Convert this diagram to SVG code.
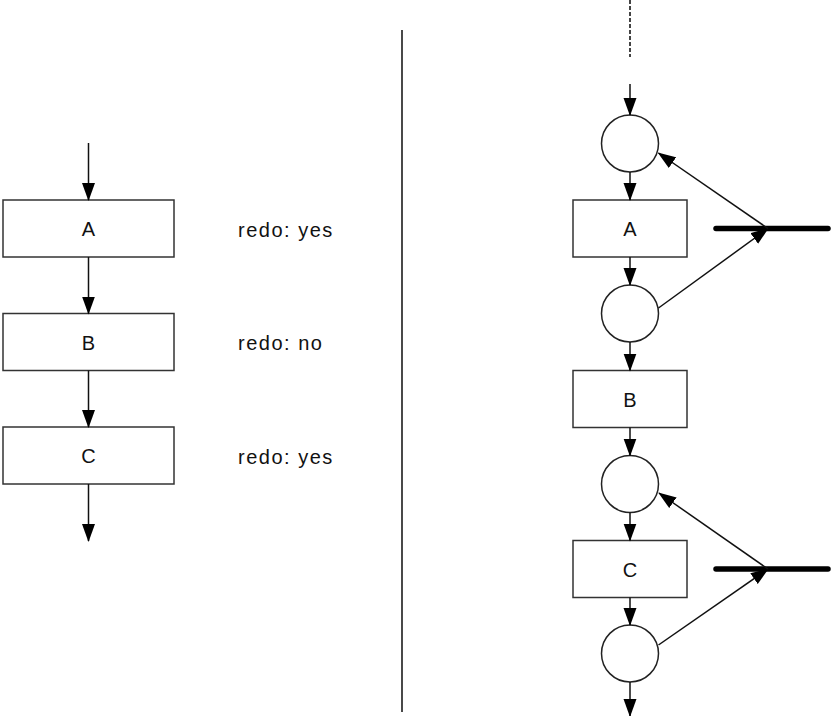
<svg xmlns="http://www.w3.org/2000/svg" width="834" height="716" viewBox="0 0 834 716">
  <style>
    .box { fill: #ffffff; stroke: #333333; stroke-width: 1.5; }
    .place { fill: #ffffff; stroke: #222222; stroke-width: 1.5; }
    .label { font-family: "Liberation Sans", Arial, sans-serif; font-size: 20px; fill: #111111; text-anchor: middle; }
    .note { font-family: "Liberation Sans", Arial, sans-serif; font-size: 20px; fill: #111111; letter-spacing: 1.5px; }
    .edge { fill: none; stroke: #111111; stroke-width: 1.5; marker-end: url(#arrow); }
    .bar { fill: none; stroke: #000000; stroke-width: 5.5; stroke-linecap: round; }
  </style>
  <defs>
    <marker id="arrow" markerUnits="userSpaceOnUse" markerWidth="18" markerHeight="14" viewBox="0 0 18 13" refX="17" refY="6.5" orient="auto">
      <path d="M0,0 L18,6.5 L0,13 z" fill="#000000"/>
    </marker>
  </defs>

  <rect width="834" height="716" fill="#ffffff"/>

  <!-- left: sequential steps -->
  <g id="left-A">
    <rect class="box" x="3" y="200" width="171" height="57"/>
    <text class="label" x="88.5" y="236">A</text>
  </g>
  <g id="left-B">
    <rect class="box" x="3" y="313.5" width="171" height="57"/>
    <text class="label" x="88.5" y="349.5">B</text>
  </g>
  <g id="left-C">
    <rect class="box" x="3" y="427" width="171" height="57"/>
    <text class="label" x="88.5" y="463">C</text>
  </g>
  <g id="notes">
    <text class="note" x="238" y="236.5">redo: yes</text>
    <text class="note" x="238" y="350">redo: no</text>
    <text class="note" x="238" y="463.5">redo: yes</text>
  </g>

  <!-- separator -->
  <line x1="402" y1="30" x2="402" y2="712" stroke="#2a2a2a" stroke-width="1.7"/>

  <!-- right: places and transitions -->
  <g id="p1"><circle class="place" cx="630" cy="143.5" r="28.5"/></g>
  <g id="right-A">
    <rect class="box" x="573" y="200" width="114" height="57"/>
    <text class="label" x="630" y="236">A</text>
  </g>
  <g id="p2"><circle class="place" cx="630" cy="313.5" r="28.5"/></g>
  <g id="right-B">
    <rect class="box" x="573" y="370.5" width="114" height="57"/>
    <text class="label" x="630" y="406.5">B</text>
  </g>
  <g id="p3"><circle class="place" cx="630" cy="484" r="28.5"/></g>
  <g id="right-C">
    <rect class="box" x="573" y="540.5" width="114" height="57"/>
    <text class="label" x="630" y="576.5">C</text>
  </g>
  <g id="p4"><circle class="place" cx="630" cy="653.5" r="28.5"/></g>
  <g id="redo-A"><line class="bar" x1="716" y1="228.5" x2="828" y2="228.5"/></g>
  <g id="redo-C"><line class="bar" x1="716" y1="569" x2="828" y2="569"/></g>

  <g id="connectors">
    <!-- left chain -->
    <line class="edge" x1="88.5" y1="143" x2="88.5" y2="200"/>
    <line class="edge" x1="88.5" y1="257" x2="88.5" y2="313.5"/>
    <line class="edge" x1="88.5" y1="370.5" x2="88.5" y2="427"/>
    <line class="edge" x1="88.5" y1="484" x2="88.5" y2="541"/>

    <!-- right chain -->
    <line x1="630" y1="0" x2="630" y2="57" stroke="#444444" stroke-width="2" stroke-dasharray="4 2"/>
    <line class="edge" x1="630" y1="84" x2="630" y2="115"/>
    <line class="edge" x1="630" y1="172" x2="630" y2="200"/>
    <line class="edge" x1="630" y1="257" x2="630" y2="285"/>
    <line class="edge" x1="630" y1="342" x2="630" y2="370.5"/>
    <line class="edge" x1="630" y1="427.5" x2="630" y2="455.5"/>
    <line class="edge" x1="630" y1="512.5" x2="630" y2="540.5"/>
    <line class="edge" x1="630" y1="597.5" x2="630" y2="625"/>
    <line class="edge" x1="630" y1="682" x2="630" y2="716"/>

    <!-- redo loops -->
    <line class="edge" x1="658.5" y1="308" x2="768" y2="228.5"/>
    <line class="edge" x1="768" y1="228.5" x2="658.5" y2="153"/>
    <line class="edge" x1="658.5" y1="645" x2="768" y2="569"/>
    <line class="edge" x1="768" y1="569" x2="659" y2="493"/>
  </g>
</svg>
